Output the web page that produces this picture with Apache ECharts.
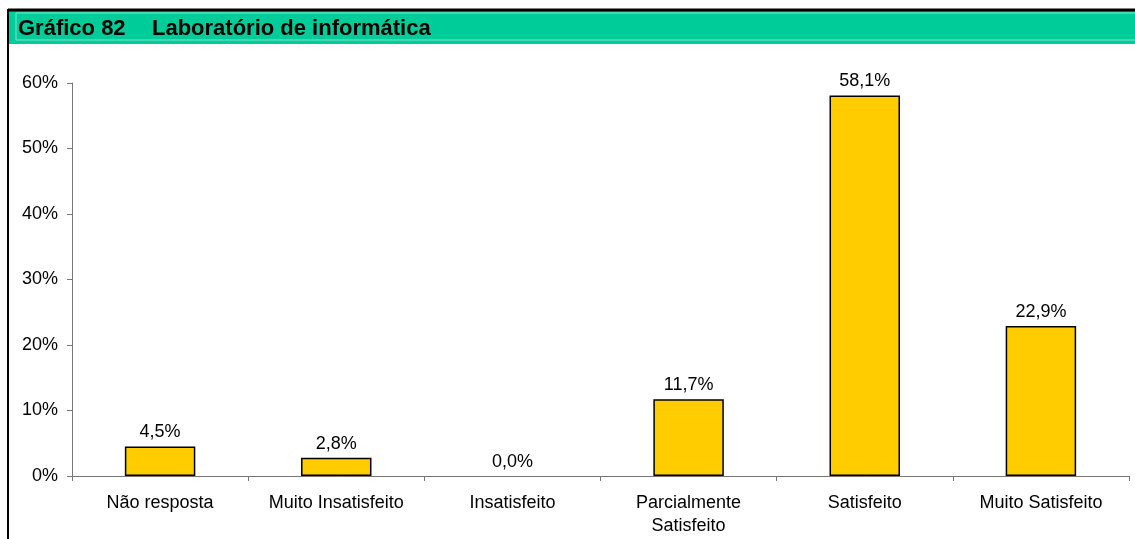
<!DOCTYPE html>
<html><head><meta charset="utf-8">
<script src="https://cdn.jsdelivr.net/npm/echarts@6/dist/echarts.min.js"></script>
<style>html,body{margin:0;padding:0;background:#fff}#c{width:1135px;height:539px}</style>
</head><body><div id="c"></div>
<script>
const titleNumber = 'Gráfico 82';
const titleText = 'Laboratório de informática';
const categories = ['Não resposta', 'Muito Insatisfeito', 'Insatisfeito', 'Parcialmente\nSatisfeito', 'Satisfeito', 'Muito Satisfeito'];
const values = [4.5, 2.8, 0.0, 11.7, 58.1, 22.9];
const yTicks = [0, 10, 20, 30, 40, 50, 60];

const chart = echarts.init(document.getElementById('c'), null, {renderer: 'canvas'});
const font = 'Liberation Sans, Arial, sans-serif';
chart.setOption({
  animation: false,
  backgroundColor: '#fff',
  graphic: [
    {type: 'rect', shape: {x: 8, y: 10, width: 1130, height: 34}, style: {fill: '#00CC99', stroke: null}},
    {type: 'rect', shape: {x: 16, y: 13, width: 1125, height: 27}, style: {fill: 'none', stroke: '#80E6CC', lineWidth: 1}},
    {type: 'line', shape: {x1: 8, y1: 10, x2: 1135, y2: 10}, style: {stroke: '#000', lineWidth: 3}},
    {type: 'line', shape: {x1: 8, y1: 9, x2: 8, y2: 539}, style: {stroke: '#000', lineWidth: 2}},
    {type: 'text', left: 18, top: 18, style: {text: titleNumber, font: 'bold 22px ' + font, fill: '#000'}},
    {type: 'text', left: 152, top: 18, style: {text: titleText, font: 'bold 22px ' + font, fill: '#000'}}
  ],
  grid: {left: 72, right: 6, top: 83, bottom: 63},
  xAxis: {
    type: 'category', data: categories,
    axisLine: {lineStyle: {color: '#777', width: 1}},
    axisTick: {show: true, length: 5, lineStyle: {color: '#777'}},
    axisLabel: {color: '#000', fontSize: 18, fontFamily: font, margin: 16, lineHeight: 23, interval: 0}
  },
  yAxis: {
    type: 'value', min: 0, max: 60, interval: 10,
    axisLine: {show: true, lineStyle: {color: '#777', width: 1}},
    axisTick: {show: true, length: 5, inside: false, lineStyle: {color: '#777'}},
    splitLine: {show: false},
    axisLabel: {color: '#000', fontSize: 18, fontFamily: font, margin: 14,
      formatter: v => yTicks.includes(v) ? v + '%' : ''}
  },
  series: [{
    type: 'bar', barWidth: '40%',
    data: values.map(v => v === 0 ? {value: v, itemStyle: {borderWidth: 0}} : v),
    itemStyle: {color: '#FFCC00', borderColor: '#000', borderWidth: 1.5},
    label: {show: true, position: 'top', distance: 5, color: '#000', fontSize: 18, fontFamily: font,
      formatter: p => p.value.toFixed(1).replace('.', ',') + '%'}
  }]
});
</script></body></html>
